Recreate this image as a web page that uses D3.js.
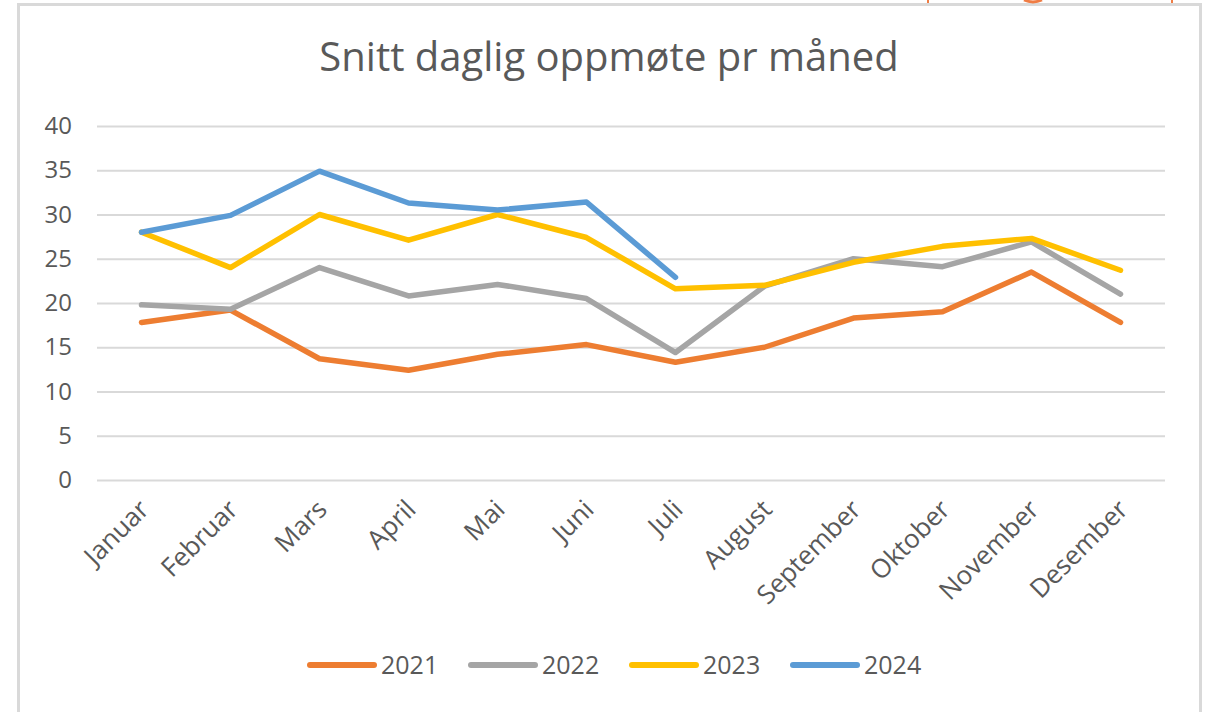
<!DOCTYPE html>
<html lang="no">
<head>
<meta charset="UTF-8">
<title>Snitt daglig oppmøte pr måned</title>
<script src="https://cdnjs.cloudflare.com/ajax/libs/d3/7.8.5/d3.min.js"></script>
<style>
  html, body { margin: 0; padding: 0; background: #fff; }
  svg { display: block; }
</style>
</head>
<body>
<div id="chart"></div>
<script>
// data
var months = ["Januar", "Februar", "Mars", "April", "Mai", "Juni", "Juli",
              "August", "September", "Oktober", "November", "Desember"];
var years = ["2021", "2022", "2023", "2024"];
var v2021 = [17.8, 19.2, 13.7, 12.4, 14.2, 15.3, 13.3, 15.0, 18.3, 19.0, 23.5, 17.8];
var v2022 = [19.8, 19.3, 24.0, 20.8, 22.1, 20.5, 14.4, 21.9, 25.0, 24.1, 26.9, 21.0];
var v2023 = [28.0, 24.0, 30.0, 27.1, 30.0, 27.4, 21.6, 22.0, 24.6, 26.4, 27.3, 23.7];
var v2024 = [28.0, 29.9, 34.9, 31.3, 30.5, 31.4, 22.9];
var yTicks = [0, 5, 10, 15, 20, 25, 30, 35, 40];
var colors = ["#ED7D31", "#A5A5A5", "#FFC000", "#5B9BD5"];

var W = 1210, H = 712;
var textColor = "#595959";
var font = "'Open Sans', 'Noto Sans', sans-serif";

// plot area (don't call it "top", that one belongs to window)
var plotLeft = 97, plotRight = 1165, plotTop = 126, plotBottom = 480;

var svg = d3.select("#chart").append("svg")
    .attr("width", W)
    .attr("height", H);

// frame of the chart area (bottom runs off the picture)
svg.append("path")
    .attr("d", "M18.5,720 L18.5,4.5 L1200.5,4.5 L1200.5,720")
    .attr("fill", "none")
    .attr("stroke", "#d9d9d9")
    .attr("stroke-width", 3);

// cropped orange bits above the frame
svg.append("line").attr("x1", 928).attr("x2", 928).attr("y1", 0).attr("y2", 3)
    .attr("stroke", "#F07D45").attr("stroke-width", 2);
svg.append("line").attr("x1", 1172).attr("x2", 1172).attr("y1", 0).attr("y2", 3)
    .attr("stroke", "#F07D45").attr("stroke-width", 2);
svg.append("path").attr("d", "M1024,0 Q1033,4 1042,0")
    .attr("fill", "none").attr("stroke", "#F07D45").attr("stroke-width", 3);

// title
svg.append("text")
    .attr("x", 609)
    .attr("y", 71)
    .attr("text-anchor", "middle")
    .attr("font-family", font)
    .attr("font-size", "40px")
    .attr("fill", textColor)
    .text("Snitt daglig oppmøte pr måned");

var x = d3.scaleBand().domain(months).range([plotLeft, plotRight]);
var y = d3.scaleLinear().domain([0, 40]).range([plotBottom, plotTop]);

// gridlines + y labels
var yAxis = d3.axisLeft(y)
    .tickValues(yTicks)
    .tickSize(-(plotRight - plotLeft))
    .tickPadding(25);

var gy = svg.append("g")
    .attr("transform", "translate(" + plotLeft + ",0)")
    .call(yAxis);
gy.select(".domain").remove();
gy.selectAll(".tick line")
    .attr("stroke", "#d9d9d9")
    .attr("stroke-width", 2);
gy.selectAll(".tick text")
    .attr("font-family", font)
    .attr("font-size", "24px")
    .attr("fill", textColor);

// x labels, turned 45 degrees
var xAxis = d3.axisBottom(x).tickSize(0).tickPadding(0);
var gx = svg.append("g")
    .attr("transform", "translate(0," + plotBottom + ")")
    .call(xAxis);
gx.select(".domain").remove();
gx.selectAll(".tick text")
    .attr("font-family", font)
    .attr("font-size", "26px")
    .attr("fill", textColor)
    .attr("text-anchor", "end")
    .attr("dy", 0)
    .attr("transform", "translate(9,31) rotate(-45)");

// lines
var series = [v2021, v2022, v2023, v2024];
var line = d3.line()
    .x(function (d, i) { return x(months[i]) + x.bandwidth() / 2; })
    .y(function (d) { return y(d); });

series.forEach(function (vals, k) {
    svg.append("path")
        .datum(vals)
        .attr("d", line)
        .attr("fill", "none")
        .attr("stroke", colors[k])
        .attr("stroke-width", 5.5)
        .attr("stroke-linejoin", "round")
        .attr("stroke-linecap", "round");
});

// legend
var legend = svg.append("g").attr("transform", "translate(307,665)");
years.forEach(function (yr, k) {
    var g = legend.append("g").attr("transform", "translate(" + (k * 161) + ",0)");
    g.append("line")
        .attr("x1", 3).attr("x2", 67)
        .attr("y1", 0).attr("y2", 0)
        .attr("stroke", colors[k])
        .attr("stroke-width", 6)
        .attr("stroke-linecap", "round");
    g.append("text")
        .attr("x", 74)
        .attr("y", 9)
        .attr("font-family", font)
        .attr("font-size", "25px")
        .attr("fill", textColor)
        .text(yr);
});
</script>
</body>
</html>
